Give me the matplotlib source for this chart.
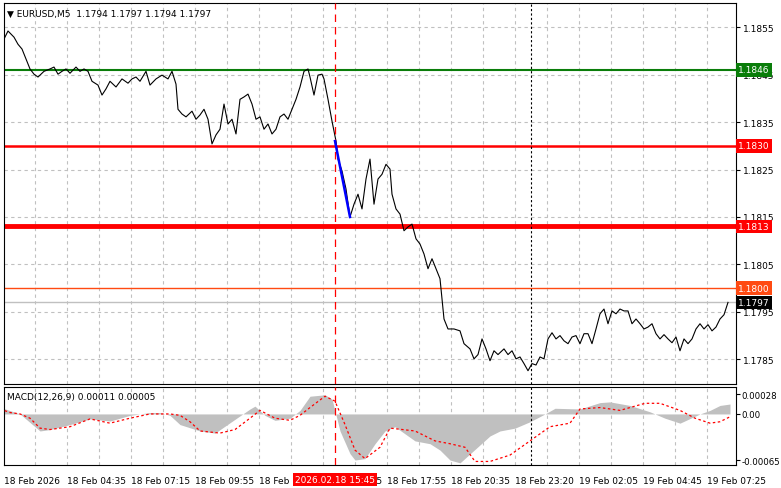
import matplotlib
matplotlib.use("Agg")
import matplotlib.pyplot as plt
import matplotlib.transforms as mtransforms

plt.rcParams['font.family'] = ['DejaVu Sans']

# price path, bar index (5 min bars from 18 Feb 01:55) and close
bars = [0, 2, 5, 7, 9, 11, 13, 15, 17, 20, 23, 25, 27, 29, 31, 33, 36, 38, 40, 42,
        44, 47, 49, 51, 53, 56, 59, 62, 64, 66, 68, 71, 73, 76, 79, 82, 84, 86, 87, 89,
        91, 94, 96, 98, 100, 102, 104, 106, 108, 110, 112, 114, 116, 118, 120, 122, 124, 126, 128, 130,
        132, 134, 136, 138, 140, 142, 144, 146, 148, 150, 152, 153, 155, 157, 159, 160, 162, 164, 166, 167,
        169, 171, 173, 175, 177, 179, 181, 183, 185, 187, 189, 191, 193, 194, 196, 198, 200, 202, 204, 206,
        208, 210, 212, 214, 216, 218, 220, 222, 225, 228, 230, 233, 235, 237, 239, 241, 243, 245, 247, 250,
        252, 254, 256, 258, 260, 262, 264, 266, 268, 270, 272, 274, 276, 278, 280, 282, 284, 286, 288, 290,
        292, 294, 296, 298, 300, 302, 304, 306, 308, 310, 312, 314, 316, 318, 320, 322, 324, 326, 328, 330,
        332, 334, 336, 338, 340, 342, 344, 346, 348, 350, 352, 354, 356, 358, 360, 362]
close = [1.18525, 1.18542, 1.18529, 1.18514, 1.18504, 1.18483, 1.18462, 1.18451, 1.18445, 1.18457,
         1.18462, 1.18466, 1.18451, 1.18457, 1.18462, 1.18453, 1.18466, 1.18457, 1.18462, 1.18457,
         1.18436, 1.18428, 1.18407, 1.18420, 1.18436, 1.18424, 1.18441, 1.18432, 1.18441, 1.18445,
         1.18436, 1.18457, 1.18428, 1.18441, 1.18449, 1.18441, 1.18457, 1.18430, 1.18377, 1.18367,
         1.18361, 1.18373, 1.18356, 1.18365, 1.18377, 1.18356, 1.18304, 1.18323, 1.18335, 1.18388,
         1.18346, 1.18356, 1.18325, 1.18398, 1.18403, 1.18409, 1.18388, 1.18356, 1.18361, 1.18335,
         1.18346, 1.18325, 1.18335, 1.18361, 1.18367, 1.18356, 1.18377, 1.18398, 1.18424, 1.18457,
         1.18462, 1.18445, 1.18407, 1.18449, 1.18451, 1.18441, 1.18398, 1.18352, 1.18310, 1.18272,
         1.18247, 1.18209, 1.18150, 1.18177, 1.18198, 1.18167, 1.18230, 1.18272, 1.18177, 1.18230,
         1.18240, 1.18261, 1.18251, 1.18198, 1.18167, 1.18156, 1.18121, 1.18129, 1.18135, 1.18104,
         1.18093, 1.18072, 1.18041, 1.18062, 1.18041, 1.18020, 1.17935, 1.17914, 1.17914, 1.17910,
         1.17883, 1.17872, 1.17851, 1.17860, 1.17893, 1.17872, 1.17847, 1.17868, 1.17860, 1.17872,
         1.17860, 1.17868, 1.17851, 1.17855, 1.17841, 1.17826, 1.17841, 1.17838, 1.17855, 1.17851,
         1.17893, 1.17906, 1.17893, 1.17900, 1.17889, 1.17883, 1.17897, 1.17900, 1.17883, 1.17904,
         1.17904, 1.17883, 1.17914, 1.17946, 1.17956, 1.17925, 1.17952, 1.17946, 1.17956, 1.17952,
         1.17952, 1.17925, 1.17935, 1.17925, 1.17914, 1.17918, 1.17925, 1.17904, 1.17893, 1.17902,
         1.17893, 1.17885, 1.17897, 1.17868, 1.17893, 1.17883, 1.17893, 1.17914, 1.17925, 1.17914,
         1.17923, 1.17910, 1.17918, 1.17935, 1.17944, 1.17970]

trend_bars = [165.5, 173]
trend_px = [1.18310, 1.18150]

levels = [1.1846, 1.1830, 1.1813, 1.1800]
level_colors = ['#0a7d0a', '#ff0000', '#ff0000', '#ff4a12']
level_widths = [1.5, 1.8, 3.5, 1.0]
last_price = 1.1797

price_ticks = [1.1855, 1.1845, 1.1835, 1.1825, 1.1815, 1.1805, 1.1795, 1.1785]

# MACD main (histogram) and signal
macd_bars = [-2, 8, 18, 23, 33, 43, 53, 63, 73, 78, 83, 88, 98, 105.5, 123, 125.5, 130.5, 135.5, 143, 148,
             153, 160.5, 164, 168, 173, 175.5, 180.5, 185.5, 190.5, 195.5, 205.5, 213, 218, 223, 228, 243,
             248, 255.5, 263, 270.5, 275.5, 288, 298, 303, 313, 323, 330.5, 338, 348, 353, 358, 363]
macd_vals = [0.000095, 0, -0.00024, -0.00022, -0.00015, -0.00007, -0.00010, -0.00002, 0.00002, 0.00002,
             -0.00002, -0.00015, -0.00024, -0.00027, 0.00007, 0.00011, -0.00002, -0.00009, -0.00006, 0.00005,
             0.00025, 0.00027, 0.00021, -0.00024, -0.00056, -0.00065, -0.00063, -0.00042, -0.00024, -0.00018,
             -0.00038, -0.00042, -0.00051, -0.00065, -0.00069, -0.00031, -0.00024, -0.00020, -0.00011, 0,
             0.00008, 0.00007, 0.00016, 0.00017, 0.00012, 0.00003, -0.00006, -0.00013, 0, 0.00005, 0.00012, 0.00014]
sig_bars = [-2, 3, 8, 13, 18, 23, 33, 43, 53, 63, 73, 83, 88, 93, 98, 108, 115.5, 123, 128, 135.5,
            143, 148, 153, 160.5, 165.5, 170.5, 175.5, 180.5, 188, 193, 205.5, 215.5, 223, 230.5, 235.5, 243,
            253, 263, 273, 283, 288, 298, 308, 320.5, 328, 338, 345.5, 353, 358, 363]
sig_vals = [0.00007, 0.00002, 0, -0.00006, -0.00020, -0.00022, -0.00018, -0.00007, -0.00013, -0.00006,
            0, 0, -0.00002, -0.00011, -0.00024, -0.00027, -0.00022, -0.00006, 0.00005, -0.00006,
            -0.00009, -0.00002, 0.00009, 0.00025, 0.00018, -0.00015, -0.00051, -0.00063, -0.00047, -0.00020,
            -0.00024, -0.00038, -0.00042, -0.00047, -0.00067, -0.00067, -0.00058, -0.00038, -0.00018, -0.00013,
            0.00007, 0.00009, 0.00005, 0.00015, 0.00015, 0.00005, -0.00006, -0.00013, -0.00011, -0.00004]

time_labels = ['18 Feb 2026', '18 Feb 04:35', '18 Feb 07:15', '18 Feb 09:55', '18 Feb 12:35',
               '18 Feb 15:15', '18 Feb 17:55', '18 Feb 20:35', '18 Feb 23:20', '19 Feb 02:05',
               '19 Feb 04:45', '19 Feb 07:25']
label_bars = [0] + [31.5 + 32 * k for k in range(11)]
grid_bars = [15.5 + 16 * k for k in range(23)]

W, H = 781, 489
fig = plt.figure(figsize=(W / 100, H / 100), dpi=100)
ax = fig.add_axes([4 / W, (H - 385) / H, 732 / W, 381 / H])
ax2 = fig.add_axes([4 / W, (H - 466) / H, 732 / W, 78 / H])

fs = 6.5
for a in (ax, ax2):
    a.set_xlim(0, 366)
    for g in grid_bars:
        a.axvline(g, color='#c0c0c0', ls=(0, (3, 3)), lw=0.8, zorder=0)
    a.axvline(165.5, color='#ff0000', ls=(0, (6, 4)), lw=0.9, zorder=4)
    a.axvline(263.5, color='black', ls=(0, (2, 2)), lw=0.8, zorder=4)
    a.set_xticks([])
    a.yaxis.tick_right()
    a.tick_params(axis='y', length=3, labelsize=fs, pad=2)
    for s in a.spines.values():
        s.set_linewidth(0.8)
ax2.tick_params(axis='y', pad=1, labelsize=6.2)

# main panel
ax.set_ylim(1.17798, 1.18601)
ax.set_yticks(price_ticks)
ax.set_yticklabels(['%.4f' % p for p in price_ticks])
for p in price_ticks:
    ax.axhline(p, color='#c0c0c0', ls=(0, (3, 3)), lw=0.8, zorder=0)
ax.plot(bars, close, color='black', lw=0.8, zorder=3)
ax.plot(trend_bars, trend_px, color='#0000ff', lw=1.8, zorder=5)
ax.axhline(last_price, color='#c0c0c0', lw=1.0, zorder=1)

trans = mtransforms.blended_transform_factory(ax.transAxes, ax.transData)
for lv, c, w in zip(levels, level_colors, level_widths):
    ax.axhline(lv, color=c, lw=w, zorder=2)
    ax.text(1.003, lv, '%.4f' % lv, transform=trans, fontsize=fs, color='white', va='center', ha='left',
            bbox=dict(boxstyle='square,pad=0.25', fc=c, ec='none'), zorder=6, clip_on=False)
ax.text(1.003, last_price, '%.4f' % last_price, transform=trans, fontsize=fs, color='white', va='center',
        ha='left', bbox=dict(boxstyle='square,pad=0.25', fc='black', ec='none'), zorder=6, clip_on=False)

ax.text(0.004, 0.985, '\u25bc EURUSD,M5  1.1794 1.1797 1.1794 1.1797', transform=ax.transAxes,
        fontsize=fs, va='top', ha='left')

# MACD panel
ax2.set_ylim(-0.00072, 0.00038)
ax2.set_yticks([0.00028, 0.0, -0.00065])
ax2.set_yticklabels(['0.00028', '0.00', '-0.00065'])
ax2.fill_between(macd_bars, 0, macd_vals, color='#c0c0c0', lw=0, zorder=1)
ax2.plot(sig_bars, sig_vals, color='#ff0000', lw=0.9, ls=(0, (2, 2)), zorder=3)
ax2.text(0.004, 0.93, 'MACD(12,26,9) 0.00011 0.00005', transform=ax2.transAxes, fontsize=fs,
         va='top', ha='left')

# time axis
tb = mtransforms.blended_transform_factory(ax2.transData, ax2.transAxes)
for b, lab in zip(label_bars, time_labels):
    ax2.text(b, -0.14, lab, transform=tb, fontsize=fs, va='top', ha='left', clip_on=False)
ax2.text(165.5, -0.13, '2026.02.18 15:45', fontsize=fs, color='white', va='top', ha='center',
         transform=tb, bbox=dict(boxstyle='square,pad=0.25', fc='#ff0000', ec='none'),
         zorder=10, clip_on=False)

fig.savefig('out.png', dpi=100, facecolor='white')
